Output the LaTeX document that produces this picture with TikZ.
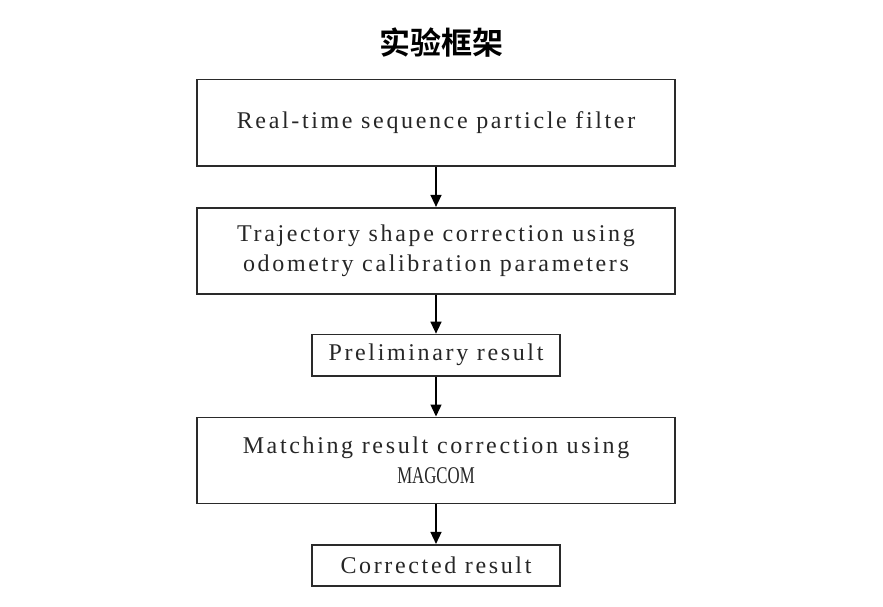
\documentclass[tikz,border=0pt]{standalone}
\usepackage{fontspec}
\setmainfont{Liberation Serif}[LetterSpace=11]
\newfontfamily\cjkbold{Noto Sans CJK SC}[UprightFont=* Bold]
\usetikzlibrary{arrows.meta}
\definecolor{linec}{HTML}{2A2A2A}
\definecolor{textc}{HTML}{262626}
\begin{document}
\begin{tikzpicture}[x=1pt,y=1pt,
  box/.style={draw=linec, line width=1.6pt, inner sep=0pt, align=center, text=textc,
    font=\fontsize{24}{30}\selectfont},
  wide/.style={box, minimum width=478pt, minimum height=86pt},
  narrow/.style={box, minimum width=248pt, minimum height=41.5pt},
  conn/.style={draw=black, line width=1.4pt, -{Triangle[length=12pt,width=11pt]}}]
\useasboundingbox (0,0) rectangle (883,-607);
\node (title) at (441,-43) {\cjkbold\fontsize{31}{36}\selectfont 实验框架};
\node[wide] (b1) at (436,-122.7) {Real-time sequence particle filter};
\node[wide] (b2) at (436,-250.7) {Trajectory shape correction using\\odometry calibration parameters};
\node[narrow] (b3) at (436,-355.2) {Preliminary result};
\node[wide] (b4) at (436,-460.3) {Matching result correction using\\\addfontfeature{LetterSpace=0}\scalebox{0.7}[1]{MAGCOM}};
\node[narrow] (b5) at (436,-565.5) {Corrected result};
\draw[conn] (b1) -- (b2);
\draw[conn] (b2) -- (b3);
\draw[conn] (b3) -- (b4);
\draw[conn] (b4) -- (b5);
\end{tikzpicture}
\end{document}
